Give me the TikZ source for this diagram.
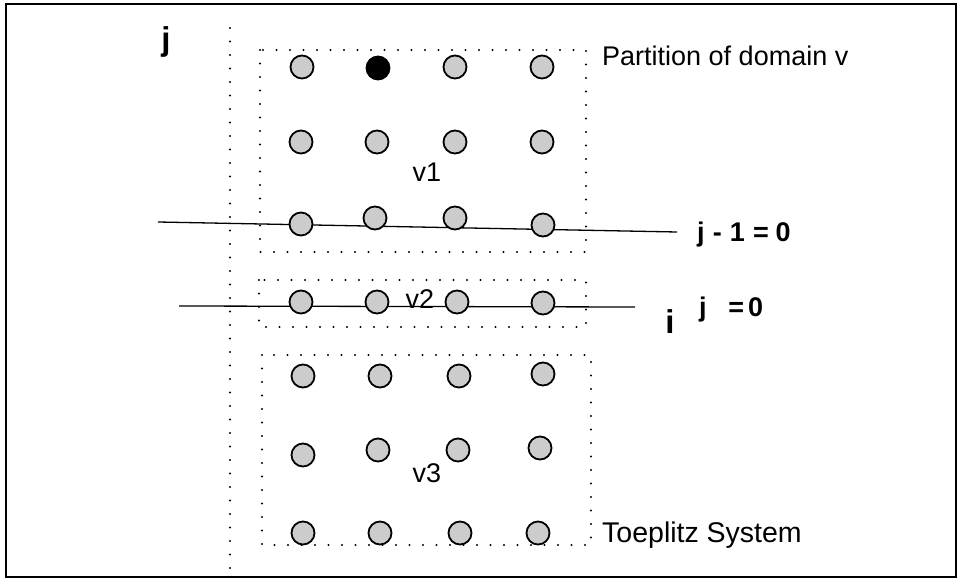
\documentclass[tikz,border=0pt]{standalone}
\usepackage{fontspec}
\setmainfont{Liberation Sans}
\begin{document}
\begin{tikzpicture}[x=1pt,y=-1pt,
  site/.style={circle,draw=black,line width=1.8pt,fill=black!20,minimum size=23pt,inner sep=0pt},
  pivot/.style={site,fill=black},
  dotline/.style={line width=2.2pt,line cap=round,dash pattern=on 0pt off 13.5pt},
  cut/.style={line width=1.3pt},
  lbl/.style={font=\fontsize{27}{32}\selectfont,inner sep=0pt},
  eqlbl/.style={font=\fontsize{27}{32}\selectfont\bfseries,inner sep=0pt,anchor=base west},
  big/.style={font=\fontsize{33}{38}\selectfont\bfseries,inner sep=0pt}]
\useasboundingbox (0,0) rectangle (960,585);
% outer frame
\draw[line width=2.8pt] (6,4) rectangle (956,577);

% vertical axis line
\coordinate (ax1) at (230,28);
\coordinate (ax2) at (230,572);
\draw[dotline] (ax1) -- (ax2);
\node[big] (jaxis) at (166,42) {j};

% partition boxes
\coordinate (b1a) at (260,50);  \coordinate (b1b) at (586,252);
\coordinate (b2a) at (259,280); \coordinate (b2b) at (586,327);
\coordinate (b3a) at (262,355); \coordinate (b3b) at (591,545);
\draw[dotline] (b1a) rectangle (b1b);
\draw[dotline] (b2a) rectangle (b2b);
\draw[dotline] (b3a) rectangle (b3b);

% cut lines
\coordinate (c1a) at (158,222); \coordinate (c1b) at (677,232);
\coordinate (c2a) at (179,306); \coordinate (c2b) at (635,307);
\draw[cut] (c1a) -- (c1b);
\draw[cut] (c2a) -- (c2b);

% region v1
\node[site]  (a11) at (302,67) {};
\node[pivot] (a12) at (378,68) {};
\node[site]  (a13) at (455,67) {};
\node[site]  (a14) at (542,67) {};
\node[site]  (a21) at (301,142) {};
\node[site]  (a22) at (377,142) {};
\node[site]  (a23) at (455,142) {};
\node[site]  (a24) at (542,142) {};
\node[site]  (a31) at (301,224) {};
\node[site]  (a32) at (375,218) {};
\node[site]  (a33) at (455,218) {};
\node[site]  (a34) at (543,225) {};
\node[lbl] (v1) at (427,172) {v1};

% region v2
\node[site] (b11) at (301,302) {};
\node[site] (b12) at (377,302) {};
\node[site] (b13) at (457,302) {};
\node[site] (b14) at (543,303) {};
\node[lbl,anchor=base] (v2) at (420,308) {v2};

% region v3
\node[site] (c11) at (303,376) {};
\node[site] (c12) at (380,376) {};
\node[site] (c13) at (459,376) {};
\node[site] (c14) at (543,374) {};
\node[site] (c21) at (303,455) {};
\node[site] (c22) at (378,450) {};
\node[site] (c23) at (458,450) {};
\node[site] (c24) at (540,448) {};
\node[site] (c31) at (303,533) {};
\node[site] (c32) at (380,533) {};
\node[site] (c33) at (460,533) {};
\node[site] (c34) at (538,533) {};
\node[lbl] (v3) at (427,473) {v3};

% labels
\node[lbl,anchor=base west] (part) at (602,66) {Partition of domain v};
\node[eqlbl] (eq1) at (697,241) {j\hspace{0.3em}-\hspace{0.3em}1\hspace{0.3em}=\hspace{0.25em}0};
\node[big] (iaxis) at (670,322) {i};
\node[eqlbl] (eq0) at (699,316) {j\hspace{0.8em}=\hspace{0.15em}0};
\node[lbl,anchor=base west,font=\fontsize{28.5}{33}\selectfont] (toep) at (602,542) {Toeplitz System};
\end{tikzpicture}
\end{document}
